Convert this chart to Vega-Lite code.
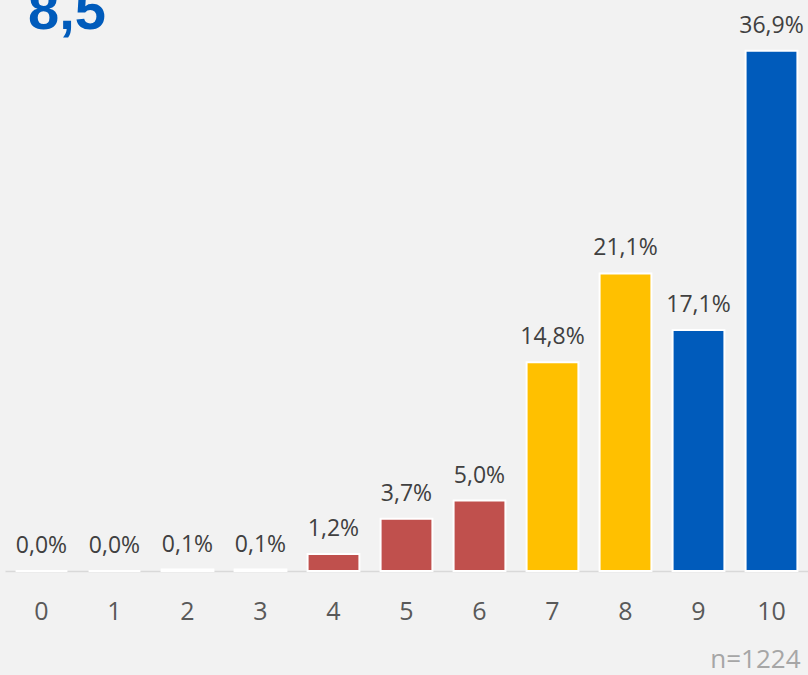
{
  "$schema": "https://vega.github.io/schema/vega-lite/v6.json",
  "width": 803,
  "height": 564,
  "autosize": "none",
  "padding": {"left": 5, "top": 7, "right": 0, "bottom": 104},
  "background": "#F2F2F2",
  "config": {
    "view": {"stroke": null},
    "locale": {"number": {"decimal": ",", "thousands": ".", "grouping": [3], "currency": ["", " €"]}}
  },
  "title": {
    "text": "8,5",
    "anchor": "start",
    "frame": "group",
    "offset": 0,
    "baseline": "alphabetic",
    "dx": 23,
    "dy": 78,
    "font": "Liberation Sans",
    "fontWeight": "bold",
    "fontSize": 56,
    "color": "#005BBB"
  },
  "data": {
    "values": [
      {"score": "0", "share": 0.0, "type": "Detractor"},
      {"score": "1", "share": 0.0, "type": "Detractor"},
      {"score": "2", "share": 0.001, "type": "Detractor"},
      {"score": "3", "share": 0.001, "type": "Detractor"},
      {"score": "4", "share": 0.012, "type": "Detractor"},
      {"score": "5", "share": 0.037, "type": "Detractor"},
      {"score": "6", "share": 0.05, "type": "Detractor"},
      {"score": "7", "share": 0.148, "type": "Passive"},
      {"score": "8", "share": 0.211, "type": "Passive"},
      {"score": "9", "share": 0.171, "type": "Promoter"},
      {"score": "10", "share": 0.369, "type": "Promoter"}
    ]
  },
  "encoding": {
    "x": {
      "field": "score",
      "type": "ordinal",
      "sort": null,
      "scale": {"paddingInner": 0.29, "paddingOuter": 0.145},
      "axis": {
        "title": "n=1224",
        "titleFont": "Open Sans",
        "titleFontSize": 26,
        "titleFontWeight": "normal",
        "titleColor": "#A6A6A6",
        "titleAnchor": "end",
        "titleAlign": "right",
        "titleBaseline": "alphabetic",
        "titleX": 795,
        "titleY": 96,
        "labelAngle": 0,
        "labelFont": "Open Sans",
        "labelFontSize": 25,
        "labelColor": "#595959",
        "labelPadding": 28,
        "ticks": false,
        "domainColor": "#D9D9D9",
        "domainWidth": 1.5
      }
    },
    "y": {
      "field": "share",
      "type": "quantitative",
      "scale": {"domain": [0, 0.4]},
      "axis": null
    }
  },
  "layer": [
    {
      "mark": {"type": "bar", "stroke": "white", "strokeWidth": 2},
      "encoding": {
        "color": {
          "field": "type",
          "type": "nominal",
          "scale": {"domain": ["Detractor", "Passive", "Promoter"], "range": ["#C0504D", "#FFC000", "#005BBB"]},
          "legend": null
        }
      }
    },
    {
      "mark": {"type": "text", "baseline": "alphabetic", "dy": -18, "font": "Open Sans", "fontSize": 23, "color": "#404040"},
      "encoding": {
        "text": {"field": "share", "type": "quantitative", "format": ".1%"}
      }
    }
  ]
}
